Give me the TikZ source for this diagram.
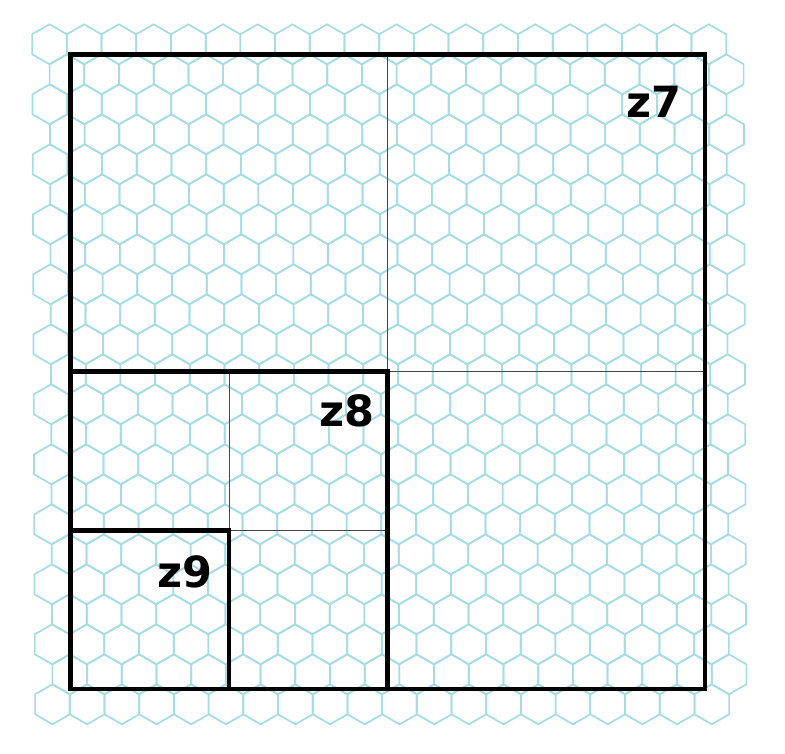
\documentclass[tikz,border=0pt]{standalone}
\usepackage{fontspec}
\newfontfamily\lblfont{DejaVu Sans}
\definecolor{hexcol}{RGB}{165,220,228}
\definecolor{thincol}{RGB}{70,70,70}
\begin{document}
\begin{tikzpicture}[x=1pt,y=-1pt,
  hexline/.style={draw=hexcol,line width=1.7pt,line join=miter},
  thickline/.style={draw=black,line width=4.6pt,line join=miter},
  thinline/.style={draw=thincol,line width=0.8pt},
  zlabel/.style={font=\lblfont\bfseries\fontsize{43}{50}\selectfont,inner sep=0pt}]
\useasboundingbox (0,0) rectangle (785,754);
% hexagonal background grid
\foreach \r in {0,...,22} {
  \pgfmathsetmacro\cy{44.3+30*\r}
  \pgfmathsetmacro\off{mod(\r,2)*17.35+0.136*\r}
  \foreach \k in {0,...,19} {
    \pgfmathsetmacro\cx{49.5+\off+34.7*\k}
    \draw[hexline] (\cx,\cy) +(0,-20) -- +(17.35,-10) -- +(17.35,10) -- +(0,20) -- +(-17.35,10) -- +(-17.35,-10) -- cycle;
  }
}
% corner coordinates
\coordinate (A) at (70.5,54.5);
\coordinate (B) at (705,689);
\coordinate (M) at (387.75,371.75);
\coordinate (Q) at (229.1,530.4);
% thin quadrant lines
\draw[thinline] (387.75,54.5) -- (M) -- (705,371.75);
\draw[thinline] (229.1,371.75) -- (Q) -- (387.75,530.4);
% thick squares
\draw[thickline] (A) rectangle (B);
\draw[thickline] (70.5,371.75) rectangle (387.75,689);
\draw[thickline] (70.5,530.4) rectangle (229.1,689);
% labels
\node[zlabel] (z7) at (654,102) {z7};
\node[zlabel] (z8) at (347,411) {z8};
\node[zlabel] (z9) at (185,572) {z9};
\end{tikzpicture}
\end{document}
